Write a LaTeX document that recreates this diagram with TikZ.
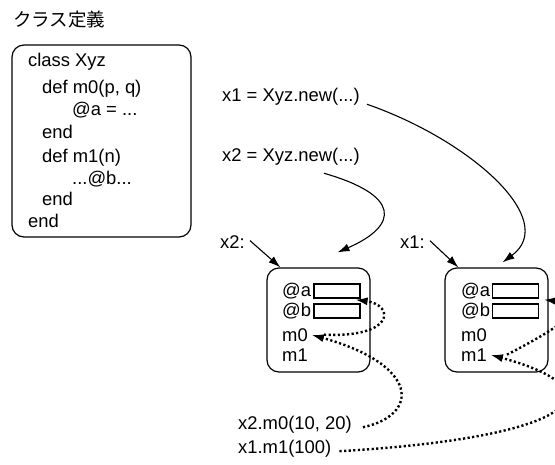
\documentclass[tikz,border=0pt]{standalone}
\usepackage{fontspec}
\setmainfont{Liberation Sans}
\newfontfamily\jafont{Noto Sans CJK JP}
\usetikzlibrary{arrows.meta}
\begin{document}
\begin{tikzpicture}[x=1pt,y=-1pt,
  txt/.style={inner sep=0pt, anchor=base west, font=\fontsize{18.4}{21}\selectfont},
  rbox/.style={draw, line width=1.2pt, rounded corners=12pt, inner sep=0pt},
  slot/.style={draw, line width=1.2pt, inner sep=0pt, minimum width=46pt, minimum height=14pt},
  sarrow/.style={line width=1.1pt, -{Latex[length=12pt,width=8pt]}},
  darrow/.style={line width=2.4pt, dash pattern=on 2.2pt off 2.4pt, -{Latex[length=13pt,width=8pt]}},
]
\useasboundingbox (0,0) rectangle (555,464);
\clip (0,0) rectangle (555,464);

% title
\node[txt, font=\jafont\fontsize{18.5}{21}\selectfont] (title) at (13,26) {クラス定義};

% class definition box
\node[rbox, minimum width=179pt, minimum height=192pt] (cls) at (101.5,141) {};
\node[txt] (l1) at (28,66) {class Xyz};
\node[txt] (l2) at (42,93) {def m0(p, q)};
\node[txt] (l3) at (72,115) {@a = ...};
\node[txt] (l4) at (42,138) {end};
\node[txt] (l5) at (42,162) {def m1(n)};
\node[txt] (l6) at (72,184) {...@b...};
\node[txt] (l7) at (42,205) {end};
\node[txt] (l8) at (28,227) {end};

% statements
\node[txt] (x1new) at (222,101) {x1 = Xyz.new(...)};
\node[txt] (x2new) at (222,161) {x2 = Xyz.new(...)};
\node[txt] (x2lab) at (220,248) {x2:};
\node[txt] (x1lab) at (400,248) {x1:};
\node[txt] (x2call) at (238,429) {x2.m0(10, 20)};
\node[txt] (x1call) at (238,453) {x1.m1(100)};

% object x2
\node[rbox, minimum width=103pt, minimum height=104pt] (o2) at (318.5,320) {};
\node[txt] (a2l) at (282,296) {@a};
\node[txt] (b2l) at (282,316) {@b};
\node[txt] (m02) at (282,341) {m0};
\node[txt] (m12) at (282,361) {m1};
\node[slot] (a2) at (337,291) {};
\node[slot] (b2) at (337,311) {};

% object x1
\node[rbox, minimum width=103pt, minimum height=104pt] (o1) at (496.5,320) {};
\node[txt] (a1l) at (461,296) {@a};
\node[txt] (b1l) at (461,316) {@b};
\node[txt] (m01) at (461,341) {m0};
\node[txt] (m11) at (461,361) {m1};
\node[slot] (a1) at (515.5,291) {};
\node[slot] (b1) at (515.5,311) {};

% solid arrows
\draw[sarrow] ([shift={(7,8)}]x1new.east) .. controls (470,140) and (560,220) .. ([shift={(6,-5)}]o1.north);
\draw[sarrow] ([shift={(-36,17)}]x2new.east) .. controls (400,195) and (400,225) .. ([shift={(19,-15)}]o2.north);
\draw[sarrow] ([shift={(5,-1)}]x2lab.east) -- ([xshift=14]o2.north west);
\draw[sarrow] ([shift={(5,-1)}]x1lab.east) -- ([xshift=14]o1.north west);

% dotted arrows, object x2
\draw[darrow] ([shift={(11,3)}]x2call.east) .. controls (420,415) and (420,365) .. ([xshift=3]m02.east);
\draw[darrow] ([xshift=16]m02.east) .. controls (395,338) and (395,305) .. ([shift={(-6,1)}]a2.south east);

% dotted arrows, object x1
\draw[darrow] ([shift={(8,3)}]x1call.east) .. controls (580,437) and (620,390) .. ([xshift=3]m11.east);
\draw[darrow] ([xshift=20]m11.east) .. controls (570,322) and (590,305) .. ([shift={(4,1)}]a1.south east);
\end{tikzpicture}
\end{document}
